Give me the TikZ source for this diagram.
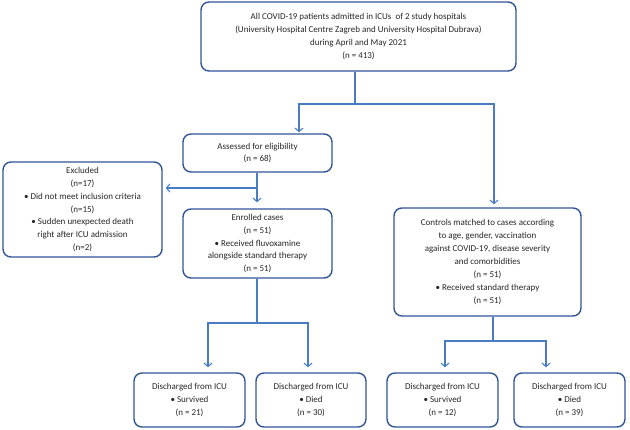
\documentclass[tikz,border=0pt]{standalone}
\usepackage{fontspec}
\setmainfont{Carlito}
\usetikzlibrary{arrows.meta}
\definecolor{boxblue}{HTML}{2F5597}
\definecolor{linkblue}{HTML}{4A7CC4}
\definecolor{txtgray}{HTML}{262626}

\begin{document}
\begin{tikzpicture}[x=1pt, y=-1pt, >={Straight Barb[length=3.5pt,width=8pt]},
  box/.style={draw=boxblue, line width=1.4pt, rounded corners=8pt, align=center,
    inner sep=0pt, text=txtgray, font=\fontsize{9}{12.9}\selectfont},
  link/.style={draw=linkblue, line width=1.1pt},
  linkarr/.style={link, ->, shorten >=3pt}]
  \useasboundingbox (0,0) rectangle (630,429);

  % Study population
  \node[box, minimum width=315, minimum height=69] (top) at (358.5,36.5)
    {All COVID-19 patients admitted in ICUs\ \ of 2 study hospitals\\
     (University Hospital Centre Zagreb and University Hospital Dubrava)\\
     during April and May 2021\\(n = 413)};

  % Cases branch
  \node[box, minimum width=149, minimum height=38] (assess) at (257.5,153)
    {Assessed for eligibility\\(n = 68)};
  \node[box, minimum width=159, minimum height=95] (excl) at (82.5,209.5)
    {Excluded\\(n=17)\\\textbullet\ Did not meet inclusion criteria\\(n=15)\\
     \textbullet\ Sudden unexpected death\\right after ICU admission\\(n=2)};
  \node[box, minimum width=149, minimum height=69] (enrol) at (257.5,243.5)
    {Enrolled cases\\(n = 51)\\\textbullet\ Received fluvoxamine\\
     alongside standard therapy\\(n = 51)};

  % Controls branch
  \node[box, minimum width=187, minimum height=108] (ctrl) at (487.5,262)
    {Controls matched to cases according\\to age, gender, vaccination\\
     against COVID-19, disease severity\\and comorbidities\\(n = 51)\\
     \textbullet\ Received standard therapy\\(n = 51)};

  % Outcomes
  \node[box, minimum width=111, minimum height=54] (survA) at (189.5,400)
    {Discharged from ICU\\\textbullet\ Survived\\(n = 21)};
  \node[box, minimum width=110, minimum height=54] (diedA) at (311,400)
    {Discharged from ICU\\\textbullet\ Died\\(n = 30)};
  \node[box, minimum width=111, minimum height=54] (survB) at (442.5,400)
    {Discharged from ICU\\\textbullet\ Survived\\(n = 12)};
  \node[box, minimum width=111, minimum height=54] (diedB) at (569.5,400)
    {Discharged from ICU\\\textbullet\ Died\\(n = 39)};

  % Junctions
  \coordinate (splitTop) at (355,104);
  \coordinate (splitTopL) at (299,104);
  \coordinate (splitTopR) at (494,104);
  \coordinate (splitExcl) at (257,188);
  \coordinate (splitA) at (257,323);
  \coordinate (splitAL) at (208,323);
  \coordinate (splitAR) at (308,323);
  \coordinate (splitB) at (493,341);
  \coordinate (splitBL) at (445,341);
  \coordinate (splitBR) at (546,341);

  % Connectors
  \draw[link] (top.south -| splitTop) -- (splitTop);
  \draw[linkarr, shorten >=1pt] (splitTop) -- (splitTopL) -- (assess.north -| splitTopL);
  \draw[linkarr] (splitTop) -- (splitTopR) -- (ctrl.north -| splitTopR);

  \draw[linkarr, shorten >=6pt] (assess.south -| splitExcl) -- (enrol.north -| splitExcl);
  \draw[linkarr, shorten >=3pt] (splitExcl) -- (excl.east |- splitExcl);

  \draw[link] (enrol.south -| splitA) -- (splitA);
  \draw[linkarr, shorten >=5pt] (splitA) -- (splitAL) -- (survA.north -| splitAL);
  \draw[linkarr, shorten >=5pt] (splitA) -- (splitAR) -- (diedA.north -| splitAR);

  \draw[link] (ctrl.south -| splitB) -- (splitB);
  \draw[linkarr, shorten >=5pt] (splitB) -- (splitBL) -- (survB.north -| splitBL);
  \draw[linkarr, shorten >=5pt] (splitB) -- (splitBR) -- (diedB.north -| splitBR);
\end{tikzpicture}
\end{document}
